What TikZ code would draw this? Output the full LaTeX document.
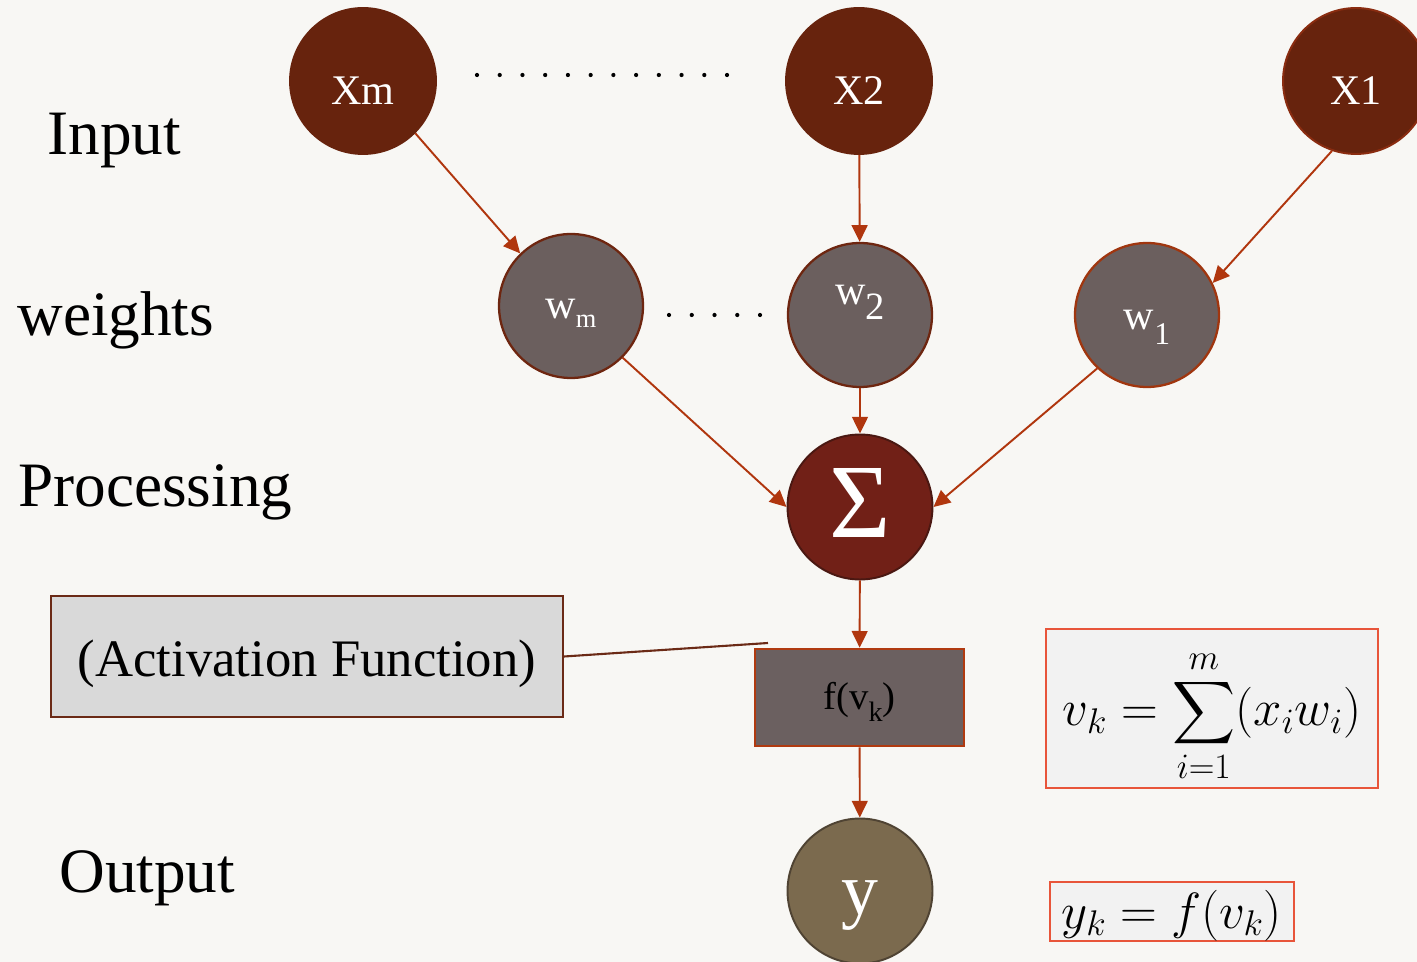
\RequirePackage{fix-cm}
\documentclass[tikz,border=0pt]{standalone}
\usepackage{amsmath}
\usepackage{fontspec}
\setmainfont{Liberation Serif}
\usetikzlibrary{arrows.meta}
\definecolor{bg}{HTML}{F8F7F4}
\definecolor{xfill}{HTML}{67230D}
\definecolor{xdraw}{HTML}{8A2C10}
\definecolor{wfill}{HTML}{6B5F5E}
\definecolor{wdraw}{HTML}{6E2610}
\definecolor{wdrawb}{HTML}{A0360F}
\definecolor{sfill}{HTML}{712017}
\definecolor{sdraw}{HTML}{4A1812}
\definecolor{ffill}{HTML}{6B6060}
\definecolor{fdraw}{HTML}{B03A10}
\definecolor{yfill}{HTML}{7B6A4E}
\definecolor{ydraw}{HTML}{4F4333}
\definecolor{arr}{HTML}{B0360E}
\definecolor{actfill}{HTML}{D9D9D9}
\definecolor{actdraw}{HTML}{6B2A16}
\definecolor{eqfill}{HTML}{F2F2F2}
\definecolor{eqdraw}{HTML}{E8553A}
\begin{document}
\begin{tikzpicture}[x=0.02cm,y=-0.02cm,
  every node/.style={inner sep=0pt},
  xnode/.style={circle,minimum size=2.92cm,fill=xfill,draw=xfill,line width=1.1pt,text=white,
    font=\fontsize{24}{26}\selectfont,text height=0.96cm,text depth=0cm},
  wnode/.style={circle,minimum size=2.88cm,fill=wfill,draw=wdraw,line width=1.3pt,text=white,
    font=\fontsize{24}{26}\selectfont,text depth=0cm},
  lab/.style={anchor=base west,font=\fontsize{36}{40}\selectfont,text=black},
  conn/.style={draw=arr,line width=1.1pt,-{Triangle[length=9.5pt,width=9pt]}},
  eqbox/.style={rectangle,fill=eqfill,draw=eqdraw,line width=1pt,text depth=0cm,
    font=\fontsize{29}{30}\selectfont},
  dotmark/.style={fill=black}
]
\fill[bg] (0,0) rectangle (1417,962);
\useasboundingbox (0,0) rectangle (1417,962);

% row labels
\node[lab] (linput) at (47,155) {Input};
\node[lab] (lweights) at (17,336) {weights};
\node[lab] (lproc) at (18,507) {Processing};
\node[lab] (lout) at (59,892) {Output};

% input nodes
\node[xnode] (xm) at (363,81) {Xm};
\node[xnode] (x2) at (859,81) {X2};
\node[xnode,draw=xdraw] (x1) at (1356,81) {X1};

% weight nodes
\node[wnode,text height=0.52cm] (wm) at (571,306) {w\raisebox{-5.1pt}{\fontsize{15}{16}\selectfont m}};
\node[wnode,text height=0.2cm] (w2) at (860,315) {\raisebox{9.1pt}{w}\fontsize{22}{24}\selectfont 2};
\node[wnode,draw=wdrawb,text height=0.6cm] (w1) at (1147,315) {w\raisebox{-8.5pt}{\fontsize{18}{20}\selectfont 1}};

% sum node
\node[circle,minimum size=2.9cm,fill=sfill,draw=sdraw,line width=1.1pt,text=white,
  font=\fontsize{60}{62}\selectfont,text height=1.24cm,text depth=0cm] (sig) at (860,507) {Σ};

% activation
\node[rectangle,minimum width=4.18cm,minimum height=1.94cm,fill=ffill,draw=fdraw,line width=1.5pt,
  font=\fontsize{22}{24}\selectfont,text height=0.5cm,text depth=0cm] (f) at (859.5,697.5)
  {f(v\raisebox{-6.8pt}{\fontsize{16}{17}\selectfont k})};

% output
\node[circle,minimum size=2.9cm,fill=yfill,draw=ydraw,line width=1.1pt,text=white,
  font=\fontsize{42}{44}\selectfont,text height=0.96cm,text depth=0cm] (y) at (860,891) {y};

% activation function label box
\node[rectangle,minimum width=10.24cm,minimum height=2.42cm,fill=actfill,draw=actdraw,line width=1.2pt,
  font=\fontsize{30}{32}\selectfont,text height=0.82cm,text depth=0cm] (act) at (307,656.5) {(Activation Function)};
\coordinate (actend) at (768,643);
\draw[actdraw,line width=1.2pt] (act.east) -- (actend);

% formula boxes
\node[eqbox,minimum width=6.64cm,minimum height=3.18cm,text height=0.7cm] (eq1) at (1212,708.5)
  {$\displaystyle v_k = \sum_{i=1}^{m}(x_i w_i)$};
\node[eqbox,minimum width=4.88cm,minimum height=1.18cm,text height=0.66cm] (eq2) at (1172,911.5)
  {$y_k = f(v_k)$};

% dots
\foreach \i in {0,...,11} \fill[dotmark] (477+\i*22.73,75) circle[radius=1.2pt];
\foreach \i in {0,...,4} \fill[dotmark] (669+\i*22.75,315) circle[radius=1.2pt];

% connectors
\draw[conn] (xm.315) -- (wm.134);
\draw[conn] (x2) -- (w2);
\draw[conn] (x1.251) -- (w1.26);
\draw[conn] (wm.315) -- (sig.180);
\draw[conn] (w2) -- (sig);
\draw[conn] (w1.227) -- (sig.0);
\draw[conn] (sig) -- (f);
\draw[conn] (f) -- (y);
\end{tikzpicture}
\end{document}
